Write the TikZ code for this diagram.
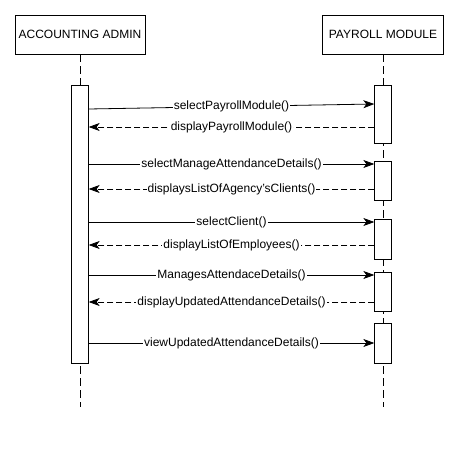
\documentclass[tikz,border=0pt]{standalone}
\usepackage{fontspec}
\setmainfont{Liberation Sans}
\usetikzlibrary{arrows.meta,positioning}

\tikzset{
  head/.style={draw, minimum height=39pt, inner sep=0pt, font=\fontsize{12}{14}\selectfont},
  actbar/.style={draw, fill=white, minimum width=16.5pt, inner sep=0pt},
  lifeline/.style={dash pattern=on 8pt off 4pt},
  call/.style={-{Stealth[length=11pt,width=8pt,inset=3pt]}},
  reply/.style={call, dash pattern=on 6pt off 3pt},
  msg/.style={fill=white, inner sep=1pt, font=\fontsize{12}{14}\selectfont}
}

\begin{document}
\begin{tikzpicture}[x=1pt,y=-1pt,line width=0.8pt]
\useasboundingbox (0,0) rectangle (459,462);
\node[head, minimum width=130pt] (admin) at (80,34.5) {ACCOUNTING ADMIN};
\node[head, minimum width=121pt] (payroll) at (383,34.5) {PAYROLL MODULE};

\coordinate (adminend) at (80,407);
\coordinate (payrollend) at (383,407);
\draw[lifeline] (admin) -- (adminend);
\draw[lifeline] (payroll) -- (payrollend);

\node[actbar, minimum height=278pt] (adminbar) at (80,224) {};
\node[actbar, minimum height=58pt] (pbarA) at (383,114) {};
\node[actbar, minimum height=39pt] (pbarB) at (383,181) {};
\node[actbar, minimum height=40pt] (pbarC) at (383,239) {};
\node[actbar, minimum height=39pt] (pbarD) at (383,291.5) {};
\node[actbar, minimum height=40pt] (pbarE) at (383,343.5) {};

\coordinate (m1a) at (0,109);
\coordinate (m1b) at (0,104);
\coordinate (m2) at (0,127);
\coordinate (m3) at (0,164);
\coordinate (m4) at (0,189);
\coordinate (m5) at (0,222);
\coordinate (m6) at (0,245);
\coordinate (m7) at (0,275);
\coordinate (m8) at (0,302);
\coordinate (m9) at (0,343);

\draw[call] (adminbar.east |- m1a) -- node[msg] {selectPayrollModule()} (pbarA.west |- m1b);
\draw[reply] (pbarA.west |- m2) -- node[msg] {displayPayrollModule()} (adminbar.east |- m2);
\draw[call] (adminbar.east |- m3) -- node[msg] {selectManageAttendanceDetails()} (pbarB.west |- m3);
\draw[reply] (pbarB.west |- m4) -- node[msg] {displaysListOfAgency'sClients()} (adminbar.east |- m4);
\draw[call] (adminbar.east |- m5) -- node[msg] {selectClient()} (pbarC.west |- m5);
\draw[reply] (pbarC.west |- m6) -- node[msg] {displayListOfEmployees()} (adminbar.east |- m6);
\draw[call] (adminbar.east |- m7) -- node[msg] {ManagesAttendaceDetails()} (pbarD.west |- m7);
\draw[reply] (pbarD.west |- m8) -- node[msg] {displayUpdatedAttendanceDetails()} (adminbar.east |- m8);
\draw[call] (adminbar.east |- m9) -- node[msg] {viewUpdatedAttendanceDetails()} (pbarE.west |- m9);

\end{tikzpicture}
\end{document}
